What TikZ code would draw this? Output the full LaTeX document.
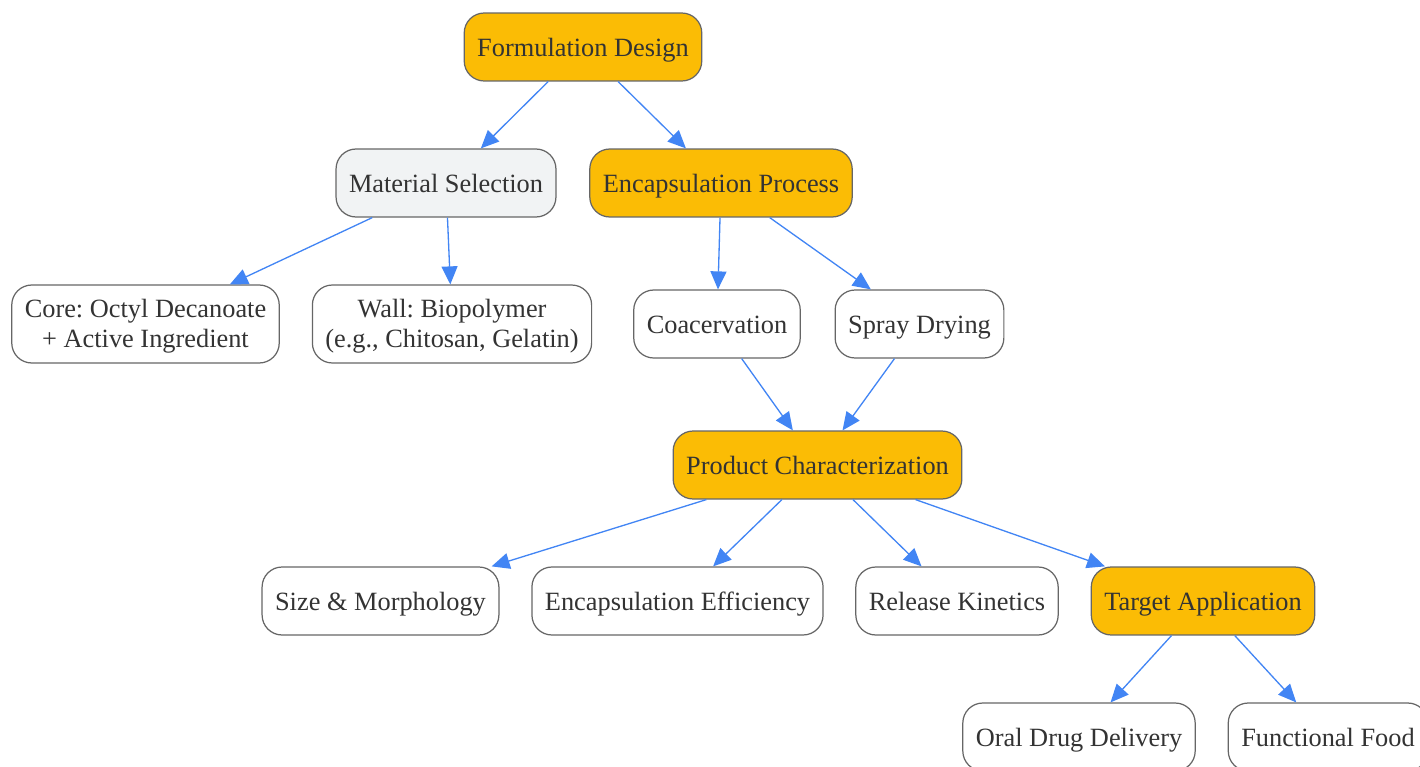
\documentclass[tikz,border=0pt]{standalone}
\usepackage{fontspec}
\setmainfont{Liberation Serif}
\usetikzlibrary{arrows.meta}
\definecolor{stageorange}{HTML}{FBBC05}
\definecolor{stagegray}{HTML}{F1F3F4}
\definecolor{edgeblue}{HTML}{4285F4}
\definecolor{bordergray}{HTML}{666666}
\definecolor{textgray}{HTML}{333333}
\frenchspacing
\tikzset{
    box/.style={draw=bordergray, line width=0.7pt, rounded corners=0.4cm, fill=white,
        text=textgray, align=center, minimum height=1.36cm, inner xsep=0.26cm,
        text height=13.4pt, text depth=2.4pt,
        font=\fontsize{15}{17.6}\selectfont},
    twobox/.style={box, text height=30.5pt, text depth=3.2pt, inner ysep=0.1cm, minimum height=1.56cm},
    keybox/.style={box, fill=stageorange},
    subbox/.style={box, fill=stagegray},
    link/.style={draw=edgeblue, line width=0.75pt, -{Triangle[length=0.36cm,width=0.32cm]}}
}
\begin{document}
\begin{tikzpicture}[x=0.02cm, y=-0.02cm]
        \useasboundingbox (0,0) rectangle (1420,767);
        \node [keybox] (design) at (583,47) {Formulation Design};
        \node [subbox] (material) at (446,183) {Material Selection};
        \node [keybox] (process) at (721,183) {Encapsulation Process};
        \node [twobox] (core) at (145.5,324) {Core: Octyl Decanoate\\+ Active Ingredient};
        \node [twobox] (wall) at (452,324) {Wall: Biopolymer\\(e.g., Chitosan, Gelatin)};
        \node [box] (coac) at (717,324) {Coacervation};
        \node [box] (spray) at (919.5,324) {Spray Drying};
        \node [keybox] (charac) at (817.5,465) {Product Characterization};
        \node [box] (size) at (380.5,601) {Size \& Morphology};
        \node [box] (effic) at (677.5,601) {Encapsulation Efficiency};
        \node [box] (release) at (957,601) {Release Kinetics};
        \node [keybox] (target) at (1203,601) {Target Application};
        \node [box] (oral) at (1079,737) {Oral Drug Delivery};
        \node [box] (food) at (1328,737) {Functional Food};
        \draw [link] (design) -- (material);
        \draw [link] (design) -- (process);
        \draw [link] (material) -- (core);
        \draw [link] (material) -- (wall);
        \draw [link] (process) -- (coac);
        \draw [link] (process) -- (spray);
        \draw [link] (coac) -- (charac);
        \draw [link] (spray) -- (charac);
        \draw [link] (charac) -- (size);
        \draw [link] (charac) -- (effic);
        \draw [link] (charac) -- (release);
        \draw [link] (charac) -- (target);
        \draw [link] (target) -- (oral);
        \draw [link] (target) -- (food);
    \end{tikzpicture}
\end{document}
